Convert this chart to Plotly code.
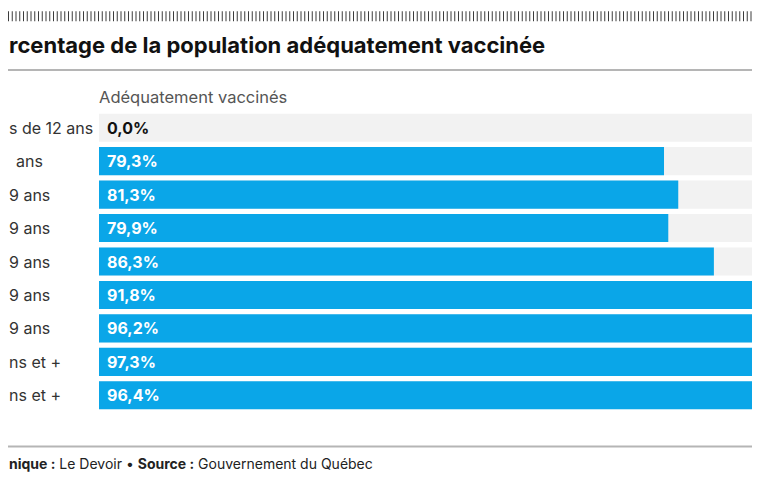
import plotly.graph_objects as go

categories = ["Moins de 12 ans", "12-17 ans", "18-29 ans", "30-39 ans", "40-49 ans",
              "50-59 ans", "60-69 ans", "70 ans et +", "80 ans et +"]
# the reference is cropped on the left: only these parts of the row labels are visible
visible_labels = ["s de 12 ans", "ans", "9 ans", "9 ans", "9 ans", "9 ans", "9 ans",
                  "ns et +", "ns et +"]
values = [0.0, 79.3, 81.3, 79.9, 86.3, 91.8, 96.2, 97.3, 96.4]
track = [100, 100, 100, 100, 100, 100, 100, 100, 100]

title = "rcentage de la population adéquatement vaccinée"
subtitle = "Adéquatement vaccinés"
footer = "<b>nique :</b> Le Devoir • <b>Source :</b> Gouvernement du Québec"

OFF = 8                      # default page margin of the html body
W, H = 760, 487 - OFF
L, R = 99 - OFF, 0
T = 111 - OFF
B = H - (412.5 - OFF)
PW = W - L - R
PH = H - T - B
FONT = "Inter, Roboto, sans-serif"


def px_x(px):
    # page pixel -> paper x
    return (px - OFF - L) / PW


def px_y(py):
    # page pixel -> paper y
    return (H - B - (py - OFF)) / PH


fig = go.Figure()
fig.add_trace(go.Bar(y=categories, x=track, orientation="h", marker_color="#f2f2f2",
                     marker_line_width=0, width=0.84, hoverinfo="skip", showlegend=False))
fig.add_trace(go.Bar(y=categories, x=values, orientation="h", marker_color="#0aa6e8",
                     marker_line_width=0, width=0.84, showlegend=False))

label_x = [8, 15, 8, 8, 8, 8, 8, 8, 8]
annotations = []
for c, lab, lx, v in zip(categories, visible_labels, label_x, values):
    annotations.append(dict(x=0, y=c, xref="x", yref="y", xanchor="left", yanchor="middle",
                            xshift=6, showarrow=False,
                            text="<b>" + f"{v:.1f}".replace(".", ",") + "%</b>",
                            font=dict(family=FONT, size=16, color="#ffffff" if v > 0 else "#111111")))
    annotations.append(dict(x=px_x(lx - 1), y=c, xref="paper", yref="y", xanchor="left",
                            yanchor="middle", showarrow=False, text=lab,
                            font=dict(family=FONT, size=16, color="#333333")))

annotations += [
    dict(x=px_x(7), y=px_y(45), xref="paper", yref="paper", xanchor="left", yanchor="middle",
         showarrow=False, text="<b>" + title + "</b>", font=dict(family=FONT, size=22, color="#111111")),
    dict(x=px_x(97), y=px_y(97), xref="paper", yref="paper", xanchor="left", yanchor="middle",
         showarrow=False, text=subtitle, font=dict(family=FONT, size=16.5, color="#555555")),
    dict(x=px_x(7), y=px_y(464), xref="paper", yref="paper", xanchor="left", yanchor="middle",
         showarrow=False, text=footer, font=dict(family=FONT, size=14, color="#222222")),
]

shapes = [
    dict(type="line", xref="paper", yref="paper", x0=px_x(OFF), x1=1, y0=px_y(16), y1=px_y(16),
         line=dict(color="#3c3c3c", width=10, dash="1px,2.75px")),
    dict(type="line", xref="paper", yref="paper", x0=px_x(OFF), x1=1, y0=px_y(70), y1=px_y(70),
         line=dict(color="#b5b5b5", width=2)),
    dict(type="line", xref="paper", yref="paper", x0=px_x(OFF), x1=1, y0=px_y(447), y1=px_y(447),
         line=dict(color="#b5b5b5", width=2)),
]

fig.update_layout(
    width=W, height=H,
    margin=dict(l=L, r=R, t=T, b=B, pad=0),
    paper_bgcolor="white", plot_bgcolor="white",
    barmode="overlay",
    xaxis=dict(range=[0, PW / 7.125], visible=False, fixedrange=True),
    yaxis=dict(autorange="reversed", visible=False, fixedrange=True),
    annotations=annotations, shapes=shapes,
    font=dict(family=FONT),
)

fig.write_html("out.html", config={"displayModeBar": False})
